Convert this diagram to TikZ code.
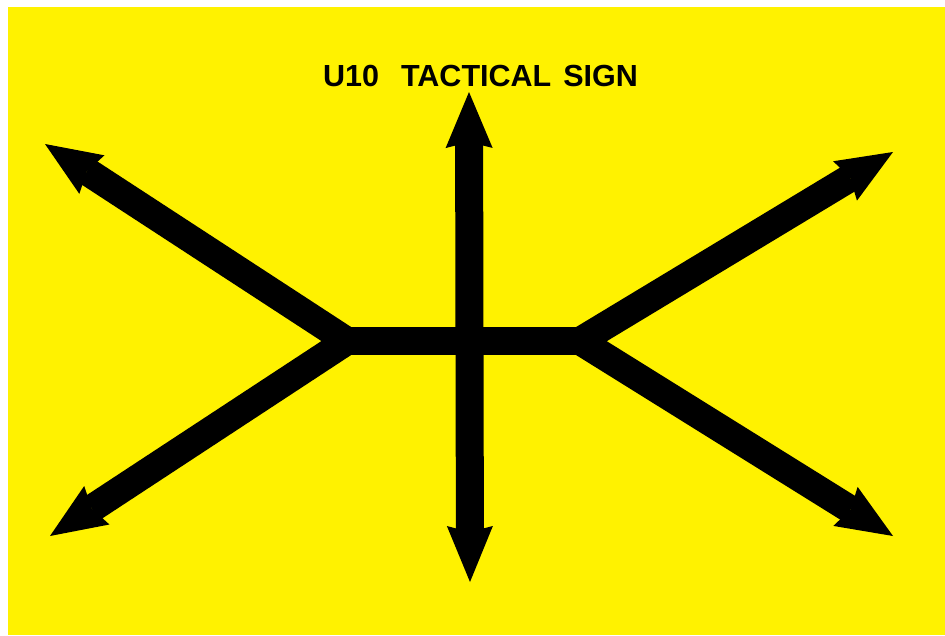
\documentclass[tikz,border=0pt]{standalone}
\usepackage{fontspec}
\setmainfont{Liberation Sans}
\usetikzlibrary{arrows.meta}
\definecolor{signyellow}{RGB}{255,242,0}
\tikzset{
  arm/.style={line width=28pt, line cap=butt, draw=black},
  headtip/.style={-{Stealth[length=56pt,width=46pt,inset=6pt,line width=0pt]}},
  bothtips/.style={{Stealth[length=56pt,width=47pt,inset=6pt,line width=0pt]}-{Stealth[length=56pt,width=46pt,inset=6pt,line width=0pt]}},
  titletext/.style={font=\bfseries\fontsize{30.5}{36}\selectfont, anchor=base, inner sep=0pt}
}
\begin{document}
\begin{tikzpicture}[x=1pt,y=-1pt]
  \useasboundingbox (0,0) rectangle (945,635);
  \fill[white] (0,0) rectangle (945,635);
  \fill[signyellow] (8,7) rectangle (945,635);

  \node[titletext] (title) at (480.5,86) {U10\hspace{22pt}TACTICAL\hspace{12pt}SIGN};

  % junction points and tips
  \coordinate (jl) at (347,341);
  \coordinate (jr) at (580,341);
  \coordinate (tul) at (45,144);
  \coordinate (tll) at (50,536);
  \coordinate (tur) at (893,152);
  \coordinate (tlr) at (893,536);
  \coordinate (ttop) at (469,92);
  \coordinate (tbot) at (470,582);

  % horizontal bar
  \draw[arm] (jl) -- (jr);
  % diagonal arms
  \draw[arm, headtip] (jl) -- (tul);
  \draw[arm, headtip] (jl) -- (tll);
  \draw[arm, headtip] (jr) -- (tur);
  \draw[arm, headtip] (jr) -- (tlr);
  % vertical double arrow
  \draw[arm, bothtips] (ttop) -- (tbot);
\end{tikzpicture}
\end{document}
